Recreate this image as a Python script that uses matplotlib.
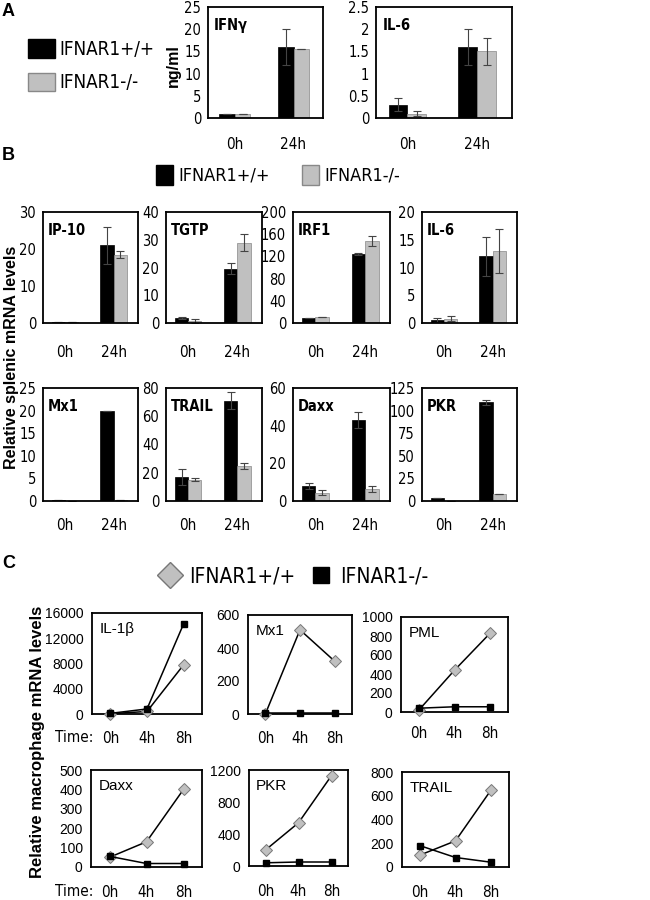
import matplotlib.pyplot as plt
from matplotlib.patches import Patch
from matplotlib.lines import Line2D

NARROW = dict(family='DejaVu Sans', fontstretch='condensed')
REG = dict(family=['Liberation Sans', 'DejaVu Sans'])
GRAY = '#c0c0c0'

# ---- data ----
groups = ['IFNAR1+/+', 'IFNAR1-/-']
bar_times = ['0h', '24h']

# panel A (ng/ml): [wt, ko] per time
a_names = ['IFNγ', 'IL-6']
a_wt = [[0.8, 16.0], [0.3, 1.6]]
a_ko = [[0.8, 15.5], [0.1, 1.5]]
a_wt_err = [[0, 4.0], [0.15, 0.4]]
a_ko_err = [[0, 0], [0.05, 0.3]]
a_ylim = [25, 2.5]
a_step = [5, 0.5]

# panel B (relative splenic mRNA)
b_names = ['IP-10', 'TGTP', 'IRF1', 'IL-6', 'Mx1', 'TRAIL', 'Daxx', 'PKR']
b_wt = [[0.2, 21], [1.8, 19.5], [9, 125], [0.5, 12],
        [0.3, 20], [17, 71], [8, 43], [3, 109]]
b_ko = [[0.2, 18.5], [0.8, 29], [11, 148], [0.8, 13],
        [0, 0.2], [15, 25], [4.5, 6.5], [0, 8]]
b_wt_err = [[0, 5], [0.5, 2], [0, 2], [0.4, 3.5],
            [0, 0], [6, 6], [1.5, 4], [0, 3]]
b_ko_err = [[0, 1], [0.8, 3], [0, 9], [0.4, 4],
            [0, 0], [1, 2], [1.5, 1.5], [0, 0]]
b_ylim = [30, 40, 200, 20, 25, 80, 60, 125]
b_step = [10, 10, 40, 5, 5, 20, 20, 25]

# panel C (relative macrophage mRNA)
c_times = ['0h', '4h', '8h']
c_names = ['IL-1β', 'Mx1', 'PML', 'Daxx', 'PKR', 'TRAIL']
c_wt = [[50, 400, 7800], [0, 510, 320], [20, 440, 830],
        [50, 130, 400], [200, 540, 1130], [100, 220, 650]]
c_ko = [[100, 800, 14300], [5, 5, 5], [40, 55, 55],
        [55, 18, 18], [40, 50, 50], [180, 80, 40]]
c_ylim = [16000, 600, 1000, 500, 1200, 800]
c_step = [4000, 200, 200, 100, 400, 200]

W, H = 650, 900
fig = plt.figure(figsize=(6.5, 9), dpi=100)


def box(x0, y0, x1, y1):
    return fig.add_axes([x0 / W, 1 - y1 / H, (x1 - x0) / W, (y1 - y0) / H])


def frame(ax):
    for s in ax.spines.values():
        s.set_linewidth(1.3)


def bar_panel(ax, wt, ko, wt_err, ko_err, top, step, name, pad):
    x = range(len(bar_times))
    w = 0.27
    ax.bar([i - w / 2 for i in x], wt, w, color='black', edgecolor='black', lw=0.5)
    ax.bar([i + w / 2 for i in x], ko, w, color=GRAY, edgecolor='#888888', lw=0.5)
    ax.errorbar([i - w / 2 for i in x], wt, yerr=wt_err, fmt='none', ecolor='#444444',
                elinewidth=0.8, capsize=3, capthick=0.8)
    ax.errorbar([i + w / 2 for i in x], ko, yerr=ko_err, fmt='none', ecolor='#444444',
                elinewidth=0.8, capsize=3, capthick=0.8)
    ax.set_xlim(-0.45, 1.5)
    ax.set_ylim(0, top)
    ticks = [round(k * step, 3) for k in range(int(round(top / step)) + 1)]
    ax.set_yticks(ticks)
    ax.set_yticklabels([('%g' % t) for t in ticks], fontsize=10.5, **NARROW)
    ax.set_xticks(list(x))
    ax.set_xticklabels(bar_times, fontsize=11, **NARROW)
    ax.tick_params(axis='x', length=0, pad=pad)
    ax.tick_params(axis='y', length=0, pad=5)
    frame(ax)
    ax.text(0.05, 0.9, name, transform=ax.transAxes, fontweight='bold',
            fontsize=10.5, va='top', **NARROW)


def line_panel(ax, wt, ko, top, step, name, pad):
    x = range(len(c_times))
    ax.plot(x, wt, '-', color='black', lw=1.1, marker='D', ms=6.5,
            mfc=GRAY, mec='#777777', mew=0.7, zorder=3, clip_on=False)
    ax.plot(x, ko, '-', color='black', lw=1.1, marker='s', ms=5,
            mfc='black', mec='black', zorder=4, clip_on=False)
    ax.set_xlim(-0.5, 2.5)
    ax.set_ylim(0, top)
    ticks = [k * step for k in range(int(round(top / step)) + 1)]
    ax.set_yticks(ticks)
    ax.set_yticklabels([str(t) for t in ticks], fontsize=10, **REG)
    ax.set_xticks(list(x))
    ax.set_xticklabels(c_times, fontsize=11, **NARROW)
    ax.tick_params(axis='x', length=0, pad=pad)
    ax.tick_params(axis='y', length=0, pad=6)
    frame(ax)
    ax.text(0.07, 0.91, name, transform=ax.transAxes, fontsize=11, va='top', **REG)


# ---- panel A ----
a_boxes = [(208, 7, 323, 118), (376, 7, 512, 118)]
for i, b in enumerate(a_boxes):
    ax = box(*b)
    bar_panel(ax, a_wt[i], a_ko[i], a_wt_err[i], a_ko_err[i],
              a_ylim[i], a_step[i], a_names[i], pad=14)
fig.text(173 / W, 1 - 66 / H, 'ng/ml', rotation=90, fontweight='bold',
         fontsize=11.5, ha='center', va='center', **REG)
fig.legend([Patch(facecolor='black', edgecolor='black'),
            Patch(facecolor=GRAY, edgecolor='#888888')], groups,
           loc='upper left', bbox_to_anchor=(28 / W, 1 - 39 / H), frameon=False,
           borderpad=0, borderaxespad=0,
           prop=dict(family='DejaVu Sans', stretch='condensed', size=13.5),
           handlelength=1.45, handleheight=1.15, handletextpad=0.2, labelspacing=0.75)

# ---- panel B ----
b_x = [(43, 138), (166, 262), (293, 390), (422, 517)]
b_y = [(212, 323), (388, 501)]
for i, name in enumerate(b_names):
    r, c = divmod(i, 4)
    ax = box(b_x[c][0], b_y[r][0], b_x[c][1], b_y[r][1])
    bar_panel(ax, b_wt[i], b_ko[i], b_wt_err[i], b_ko_err[i],
              b_ylim[i], b_step[i], name, pad=16 if r == 0 else 12)
fig.text(12 / W, 1 - 357 / H, 'Relative splenic mRNA levels', rotation=90,
         fontweight='bold', fontsize=11.5, ha='center', va='center', **REG)
fig.legend([Patch(facecolor='black', edgecolor='black'),
            Patch(facecolor=GRAY, edgecolor='#888888')], groups,
           loc='center', bbox_to_anchor=(278 / W, 1 - 175 / H), ncol=2, frameon=False,
           borderpad=0, borderaxespad=0,
           prop=dict(family='DejaVu Sans', stretch='condensed', size=13),
           handlelength=0.95, handleheight=1.3, handletextpad=0.3, columnspacing=1.8)

# ---- panel C ----
c_boxes = [(92, 613, 202, 714), (248, 615, 352, 714), (401, 617, 508, 712),
           (91, 770, 202, 867), (249, 770, 348, 866), (402, 772, 509, 867)]
c_pads = [12, 12, 10, 13, 13, 13]
for i, name in enumerate(c_names):
    ax = box(*c_boxes[i])
    line_panel(ax, c_wt[i], c_ko[i], c_ylim[i], c_step[i], name, c_pads[i])
fig.text(55 / W, 1 - 738 / H, 'Time:', fontsize=11, va='center', **NARROW)
fig.text(55 / W, 1 - 892 / H, 'Time:', fontsize=11, va='center', **NARROW)
fig.text(38 / W, 1 - 742 / H, 'Relative macrophage mRNA levels', rotation=90,
         fontweight='bold', fontsize=12, ha='center', va='center', **REG)
fig.legend([Line2D([], [], ls='none', marker='D', ms=13, mfc=GRAY, mec='#777777'),
            Line2D([], [], ls='none', marker='s', ms=11, mfc='black', mec='black')],
           groups, loc='center', bbox_to_anchor=(294 / W, 1 - 576 / H), ncol=2,
           frameon=False, borderpad=0, borderaxespad=0,
           prop=dict(family='DejaVu Sans', stretch='condensed', size=15),
           handlelength=1.0, handletextpad=0.45, columnspacing=0.7)

for letter, y in [('A', 12), ('B', 156), ('C', 563)]:
    fig.text(2 / W, 1 - y / H, letter, fontweight='bold', fontsize=13,
             va='center', **REG)

fig.savefig('out.png', dpi=100)
